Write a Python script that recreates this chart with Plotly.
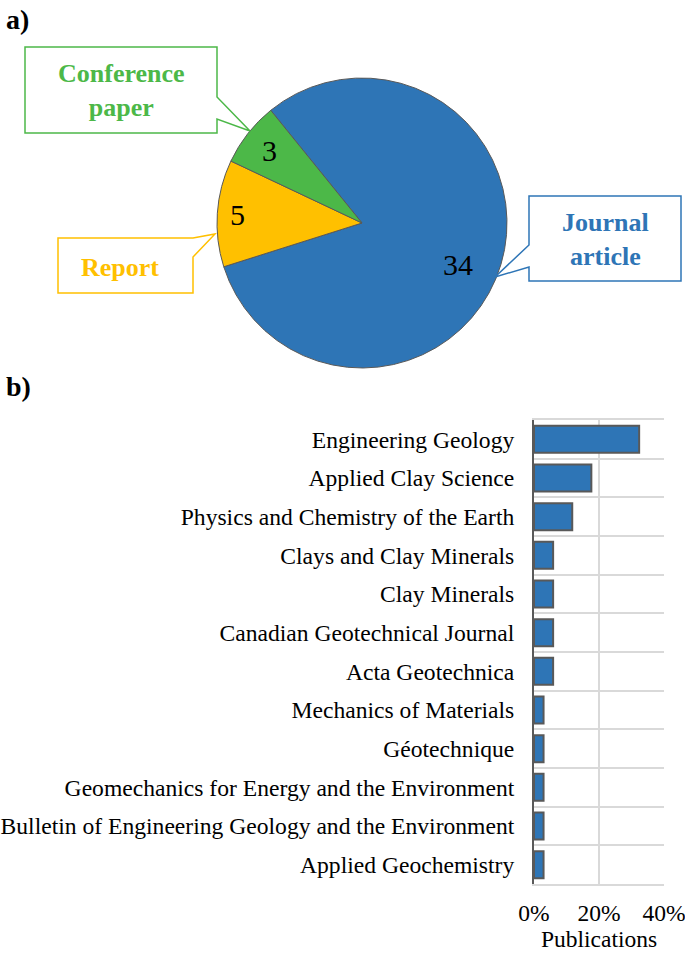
import math
import plotly.graph_objects as go

W, H = 685, 953

# ---- Data ----
pub_types = ["Journal article", "Report", "Conference paper"]
pub_counts = [34, 5, 3]
pie_colors = ["#2E75B6", "#FFC000", "#4CB848"]

journals = [
    "Engineering Geology",
    "Applied Clay Science",
    "Physics and Chemistry of the Earth",
    "Clays and Clay Minerals",
    "Clay Minerals",
    "Canadian Geotechnical Journal",
    "Acta Geotechnica",
    "Mechanics of Materials",
    "Géotechnique",
    "Geomechanics for Energy and the Environment",
    "Bulletin of Engineering Geology and the Environment",
    "Applied Geochemistry",
]
journal_counts = [11, 6, 4, 2, 2, 2, 2, 1, 1, 1, 1, 1]
x_ticks = [0, 0.2, 0.4]
x_tick_labels = ["0%", "20%", "40%"]

total_j = sum(journal_counts)
journal_share = [c / total_j for c in journal_counts]

FONT = "Times New Roman, Liberation Serif, serif"

# pie geometry (pixels)
PIE_CX, PIE_CY, PIE_R = 362, 223, 145
PIE_ROT = -39
LABEL_RADIUS = [0.72, 0.86, 0.81]   # label distance from centre, fraction of radius
LABEL_ANGLE_SHIFT = [6.8, 0, 0]     # degrees, label placement tweak


def px(x):
    return x / W


def py(y):
    return 1 - y / H


fig = go.Figure()

fig.add_trace(go.Pie(
    labels=pub_types,
    values=pub_counts,
    sort=False,
    direction="clockwise",
    rotation=PIE_ROT,
    marker=dict(colors=pie_colors, line=dict(color="#595959", width=1)),
    textinfo="none",
    domain=dict(x=[px(PIE_CX - PIE_R), px(PIE_CX + PIE_R)],
                y=[py(PIE_CY + PIE_R), py(PIE_CY - PIE_R)]),
    showlegend=False,
    hoverinfo="label+value",
))

fig.add_trace(go.Bar(
    y=journals,
    x=journal_share,
    orientation="h",
    marker=dict(color="#2E75B6", line=dict(color="#595959", width=2)),
    xaxis="x",
    yaxis="y",
    showlegend=False,
))


def callout(points, color):
    d = "M " + " L ".join(f"{px(x)},{py(y)}" for x, y in points) + " Z"
    return dict(type="path", xref="paper", yref="paper", path=d,
                line=dict(color=color, width=1.5), fillcolor="rgba(0,0,0,0)")


shapes = [
    callout([(25, 47), (217, 47), (217, 97), (250, 131), (217, 119),
             (217, 133), (25, 133)], "#4CB848"),
    callout([(58, 238), (193, 238), (215, 234), (193, 257), (193, 293),
             (58, 293)], "#FFC000"),
    callout([(529, 196), (681, 196), (681, 281), (529, 281), (529, 267),
             (495, 277), (529, 245)], "#2E75B6"),
]


def ann(text, x, y, size, color, xanchor="center"):
    return dict(text=text, x=px(x), y=py(y), xref="paper", yref="paper",
                xanchor=xanchor, yanchor="middle", showarrow=False,
                font=dict(family=FONT, size=size, color=color))


annotations = [
    ann("<b>a)</b>", 4, 20, 28, "black", "left"),
    ann("<b>b)</b>", 4, 386, 28, "black", "left"),
    ann("<b>Conference<br>paper</b>", 121, 90, 26, "#4CB848"),
    ann("<b>Report</b>", 120, 267, 26, "#FFC000"),
    ann("<b>Journal<br>article</b>", 605, 240, 26, "#2E75B6"),
]

# slice value labels, placed around the middle angle of each slice
total_p = sum(pub_counts)
cum = 0
for v, rf, sh in zip(pub_counts, LABEL_RADIUS, LABEL_ANGLE_SHIFT):
    mid = math.radians(PIE_ROT + (cum + v / 2) / total_p * 360 + sh)
    cum += v
    lx = PIE_CX + rf * PIE_R * math.sin(mid)
    ly = PIE_CY - rf * PIE_R * math.cos(mid)
    annotations.append(ann(str(v), lx, ly, 30, "black"))

fig.update_layout(
    width=W, height=H, autosize=False,
    margin=dict(l=0, r=0, t=0, b=0, autoexpand=False),
    paper_bgcolor="white", plot_bgcolor="white",
    font=dict(family=FONT, color="black"),
    bargap=0.3,
    shapes=shapes,
    annotations=annotations,
    xaxis=dict(
        domain=[px(534), px(664)], anchor="y", automargin=False,
        range=[0, 0.4], tickvals=x_ticks, ticktext=x_tick_labels,
        showgrid=True, gridcolor="#D9D9D9", gridwidth=2,
        zeroline=False, showline=True, mirror=True,
        linecolor="#D9D9D9", linewidth=2,
        ticks="", ticklabelstandoff=7, ticklabeloverflow="allow",
        tickfont=dict(family=FONT, size=23.5, color="black"),
        title=dict(text="Publications", font=dict(family=FONT, size=23.5, color="black"),
                   standoff=0),
        fixedrange=True,
    ),
    yaxis=dict(
        domain=[py(884), py(420)], anchor="x", automargin=False,
        type="category", autorange="reversed",
        tickson="boundaries", showgrid=True, gridcolor="#D9D9D9", gridwidth=2,
        showline=True, linecolor="#595959", linewidth=2,
        ticks="", ticklabelstandoff=13,
        tickfont=dict(family=FONT, size=23.6, color="black"),
        fixedrange=True,
    ),
)

# remove the browser's default 8px body margin so the figure fills the window
fig.write_html("out.html", config={"displayModeBar": False},
               post_script="document.body.style.margin='0';")
